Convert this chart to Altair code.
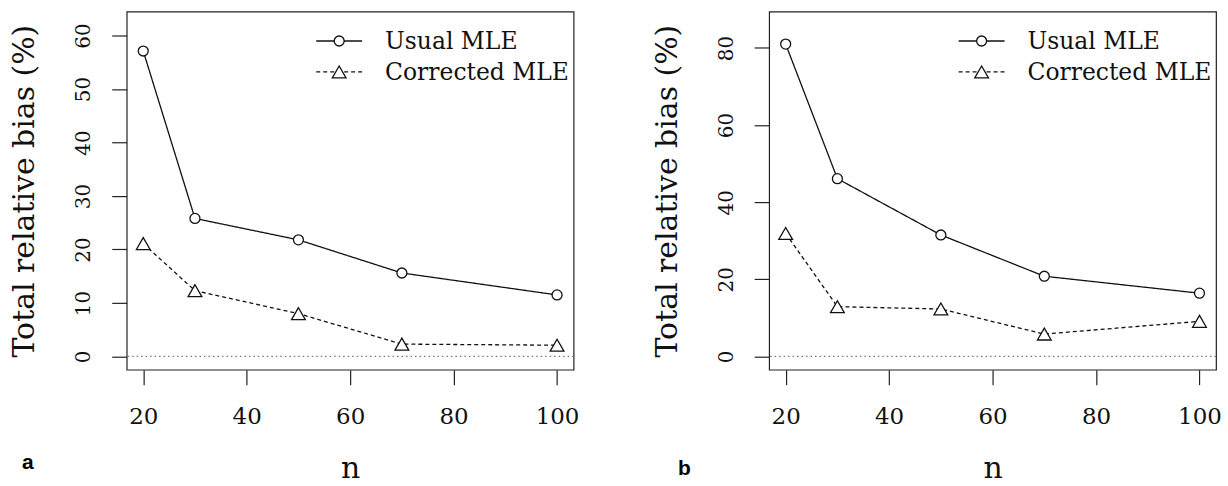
import altair as alt
import pandas as pd

n_values = [20, 30, 50, 70, 100]
usual_a = [57.1, 25.8, 21.8, 15.6, 11.5]
corrected_a = [21.1, 12.3, 8.0, 2.3, 2.1]
usual_b = [81.0, 46.1, 31.5, 20.8, 16.4]
corrected_b = [31.9, 12.9, 12.3, 5.8, 9.1]
series_names = ["Usual MLE", "Corrected MLE"]
x_ticks = [20, 40, 60, 80, 100]
y_ticks_a = [0, 10, 20, 30, 40, 50, 60]
y_ticks_b = [0, 20, 40, 60, 80]

SERIF = "DejaVu Serif"
W, H = 448, 359


def panel(usual, corrected, ydom, yticks, letter, letter_x, letter_y):
    df = pd.DataFrame({
        "n": n_values * 2,
        "bias": usual + corrected,
        "series": [series_names[0]] * len(n_values) + [series_names[1]] * len(n_values),
    })
    xenc = alt.X("n:Q", scale=alt.Scale(domain=[16.8, 103.2], nice=False, zero=False),
                 axis=alt.Axis(values=x_ticks, title="n", titleFontSize=30, titleFont=SERIF,
                               titleFontWeight="normal", titleBaseline="alphabetic",
                               titleY=108, labelFontSize=23, labelBaseline="alphabetic",
                               labelPadding=39, labelFlush=False))
    yenc = alt.Y("bias:Q", scale=alt.Scale(domain=ydom, nice=False, zero=False),
                 axis=alt.Axis(values=yticks, title="Total relative bias (%)", titleFontSize=30,
                               titleFont=SERIF, titleFontWeight="normal", titleAngle=270,
                               titleBaseline="alphabetic", titleAlign="center", titleX=-93,
                               labelFontSize=20, labelAngle=270, labelAlign="center",
                               labelBaseline="alphabetic", labelPadding=22, labelFlush=False))
    dash = alt.StrokeDash("series:N", scale=alt.Scale(domain=series_names, range=[[1, 0], [4, 3]]),
                          legend=None)
    base = alt.Chart(df)
    zero = alt.Chart(pd.DataFrame({"z": [0]})).mark_rule(
        color="#777", strokeDash=[1.5, 3], strokeWidth=1.2).encode(y=alt.Y("z:Q"))
    lines = base.mark_line(color="#111", strokeWidth=1.3).encode(x=xenc, y=yenc, strokeDash=dash)
    pts = base.mark_point(fill="white", stroke="#111", strokeWidth=1.3, opacity=1,
                          fillOpacity=1).encode(
        x="n:Q", y="bias:Q",
        shape=alt.Shape("series:N", scale=alt.Scale(domain=series_names,
                                                    range=["circle", "triangle-up"]), legend=None),
        size=alt.Size("series:N", scale=alt.Scale(domain=series_names, range=[100, 190]),
                      legend=None),
    )
    # legend (R style)
    leg_rows = [(series_names[0], 29.5, 37.5, [1, 0], "circle", 100),
                (series_names[1], 60.5, 68.5, [4, 3], "triangle-up", 190)]
    leg_layers = []
    for name, ly, ty, sd, shp, sz in leg_rows:
        one = alt.Chart(pd.DataFrame({"label": [name]}))
        leg_layers.append(one.mark_rule(color="#111", strokeWidth=1.3, strokeDash=sd).encode(
            x=alt.value(190), x2=alt.value(236), y=alt.value(ly)))
        leg_layers.append(one.mark_point(shape=shp, size=sz, fill="white", stroke="#111",
                                         strokeWidth=1.3, opacity=1, fillOpacity=1).encode(
            x=alt.value(213), y=alt.value(ly)))
        leg_layers.append(one.mark_text(font=SERIF, fontSize=23.5, align="left",
                                        baseline="alphabetic", color="#111").encode(
            x=alt.value(259), y=alt.value(ty), text="label:N"))
    let = alt.Chart(pd.DataFrame({"t": [letter]})).mark_text(
        font="Liberation Sans", fontWeight="bold", fontSize=21, align="center",
        baseline="alphabetic", color="black").encode(
        x=alt.value(letter_x), y=alt.value(letter_y), text="t:N")
    return alt.layer(zero, lines, pts, *leg_layers, let).properties(width=W, height=H)


left = panel(usual_a, corrected_a, [-2.48, 64.48], y_ticks_a, "a", -99, 459)
right = panel(usual_b, corrected_b, [-3.44, 89.44], y_ticks_b, "b", -85, 465)

chart = alt.hconcat(left, right, spacing=72).properties(
    padding={"left": 9, "top": 10, "right": 6, "bottom": 0},
    background="white",
).configure_view(stroke="#222", strokeWidth=1.2).configure_axis(
    grid=False, domain=False, ticks=True, tickColor="#222", tickSize=15, tickWidth=1.2,
    labelFont=SERIF, labelColor="#111", titleColor="#111",
)

chart.save("out.html", embed_options={"renderer": "svg", "actions": False})
